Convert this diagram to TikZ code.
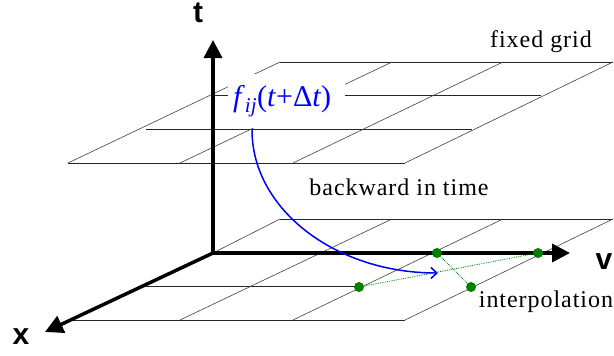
\documentclass[tikz,border=0pt]{standalone}
\usepackage{fontspec}
\setmainfont{Liberation Serif}
\newfontfamily\axfont{Liberation Sans}
\newfontfamily\lblfont{Liberation Serif}[LetterSpace=4]
\usetikzlibrary{arrows.meta}
\definecolor{dgreen}{RGB}{0,128,0}
\begin{document}
\begin{tikzpicture}[x=1pt,y=-1pt,
  hline/.style={line width=0.9pt, black!85},
  dline/.style={line width=0.6pt, black!75},
  axisline/.style={line width=3.5pt, -{Triangle[length=18pt,width=18pt]}},
  axlabel/.style={font=\axfont\bfseries\fontsize{30}{30}\selectfont, inner sep=0pt},
  lbl/.style={font=\lblfont\fontsize{24}{24}\selectfont, inner sep=0pt},
  gdot/.style={circle, fill=dgreen, minimum size=10pt, inner sep=0pt},
  gline/.style={dgreen, densely dotted, line width=0.8pt}
]
\useasboundingbox (0,0) rectangle (614,356);

% top grid
\foreach \y/\a/\b in {62/280/613, 95.7/213/541, 129.3/146/472, 163/68/405}
  \draw[hline] (\a,\y) -- (\b,\y);
\foreach \a/\b in {280/68, 392/180, 503/293, 613/405}
  \draw[dline] (\a,62) -- (\b,163);

% axes points
\coordinate (O) at (213,253);
\coordinate (tT) at (213,40);
\coordinate (xT) at (45,332);
\coordinate (vT) at (570,253);

% bottom grid
\foreach \y/\a/\b in {219/280/613, 252.7/213/541, 286.3/146/359, 320/70/405}
  \draw[hline] (\a,\y) -- (\b,\y);
\draw[dline] (280,219) -- (O);
\foreach \a/\b in {392/180, 503/293, 613/405}
  \draw[dline] (\a,219) -- (\b,320);

% axes
\draw[axisline] (O) -- (tT);
\draw[axisline] (O) -- (xT);
\draw[axisline] (O) -- (vT);

% label with white box
\node[fill=white, inner xsep=5pt, inner ysep=0pt, text width=107pt, align=left,
      minimum height=54pt, anchor=north west, text=blue,
      font=\fontsize{30}{30}\selectfont] (flabel) at (228,74)
  {\textit{f}\textsubscript{\textit{ij}}(\textit{t}+Δ\textit{t})};

% backward curve
\coordinate (fs) at (252,130);
\coordinate (fe) at (438,273);
\draw[blue, line width=1.5pt, -{Straight Barb[length=6pt,width=11pt]}]
  (fs) .. controls +(0,79) and +(-103,0) .. (fe);

% interpolation points
\node[gdot] (g1) at (437,253) {};
\node[gdot] (g2) at (538,253) {};
\node[gdot] (g3) at (359,287) {};
\node[gdot] (g4) at (471,287) {};
\draw[gline] (g3) -- (g2);
\draw[gline] (g1) -- (g4);

% texts
\node[lbl, anchor=base] (fg) at (541,47) {fixed grid};
\node[lbl, anchor=base] (bt) at (399,195) {backward in time};
\node[lbl, anchor=base] (ip) at (546,307) {interpolation};

\node[axlabel] (tl) at (198,13) {t};
\node[axlabel] (xl) at (21,337) {x};
\node[axlabel] (vl) at (604,262) {v};
\end{tikzpicture}
\end{document}
